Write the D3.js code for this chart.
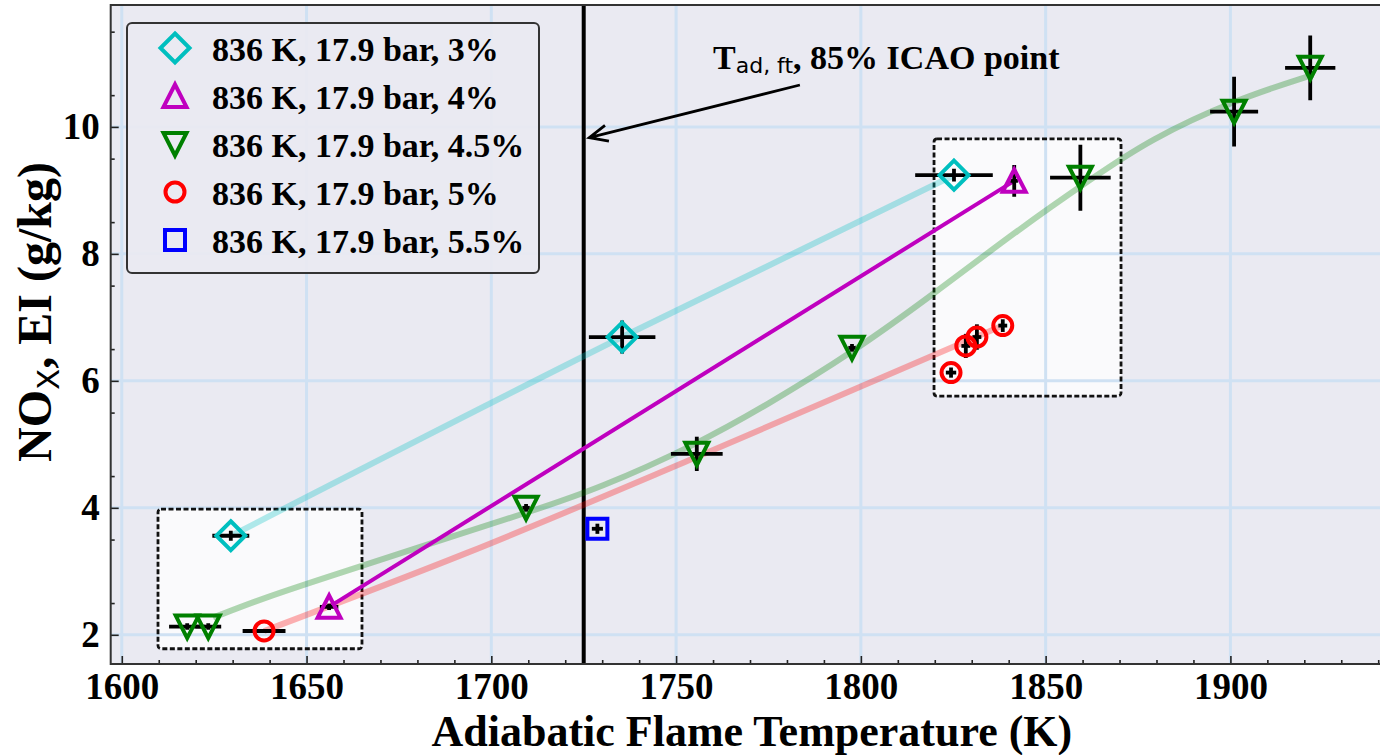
<!DOCTYPE html>
<html>
<head>
<meta charset="utf-8">
<script src="https://cdn.jsdelivr.net/npm/d3@7"></script>
<style>
  html, body { margin: 0; padding: 0; background: #ffffff; }
  svg { display: block; }
</style>
</head>
<body>
<div id="chart"></div>
<script>
//internal variables
var width = 1380;
var height = 755;
var pLeft = 110.7, pRight = 1393, pTop = 5, pBottom = 664;
var serif = "'Liberation Serif', 'Times New Roman', serif";
var sans = "'DejaVu Sans', sans-serif";

//data
// 3 %
const t3 = [1629.5, 1735.4, 1825.2];
const n3 = [3.56, 6.69, 9.24];
const t3err = [5, 9, 10.5];
const n3err = [0.08, 0.26, 0.1];
const fit3T = [1629.6, 1735.4, 1825.2];
const fit3N = [3.56, 6.69, 9.24];
// 4 %
const t4 = [1656.1, 1841.5];
const n4 = [2.44, 9.15];
const t4err = [2.5, 1];
const n4err = [0.05, 0.25];
// 4.5 %
const t45 = [1617.7, 1623.4, 1709.4, 1755.6, 1797.6, 1859.4, 1901.0, 1921.6];
const n45 = [2.13, 2.13, 4.0, 4.85, 6.52, 9.2, 10.24, 10.93];
const t45err = [4.9, 3.5, 1, 7, 1, 8.2, 6.5, 6.8];
const n45err = [0.05, 0.05, 0.06, 0.27, 0.06, 0.52, 0.55, 0.51];
const fit45T = [1624.7, 1639.3, 1657.2, 1684.2, 1709.4, 1729.4, 1755.6, 1774.6, 1797.6, 1819.5, 1843.0, 1862.8, 1878.2, 1900.9, 1922.3];
const fit45N = [2.27, 2.60, 2.94, 3.45, 3.92, 4.31, 5.00, 5.62, 6.44, 7.36, 8.40, 9.20, 9.80, 10.42, 10.82];
// 5 %
const t5 = [1638.5, 1824.4, 1828.4, 1831.4, 1838.4];
const n5 = [2.06, 6.13, 6.55, 6.69, 6.87];
const t5err = [5.8, 1.4, 1.2, 1.2, 1.2];
const n5err = [0.03, 0.08, 0.19, 0.2, 0.1];
const fit5T = [1638.5, 1693.4, 1755.6, 1838.4];
const fit5N = [2.06, 3.29, 4.80, 6.87];
// 5.5 %
const t55 = [1728.7];
const n55 = [3.67];
const t55err = [1.5];
const n55err = [0.08];

const legendLabels = ["836 K, 17.9 bar, 3%", "836 K, 17.9 bar, 4%", "836 K, 17.9 bar, 4.5%", "836 K, 17.9 bar, 5%", "836 K, 17.9 bar, 5.5%"];
const xTicks = [1600, 1650, 1700, 1750, 1800, 1850, 1900];
const yTicks = [2, 4, 6, 8, 10];
const tIcao = 1725;
// zoom boxes [T0, T1, N0, N1]
const box1 = [1609.8, 1665.0, 1.78, 3.98];
const box2 = [1819.8, 1870.4, 5.76, 9.81];
// arrow: tip and tail
const arrowT = [1726.5, 1783.5];
const arrowN = [9.83, 10.66];

//scales
var x = d3.scaleLinear().domain([1597, 1944]).range([pLeft, pRight]);
var y = d3.scaleLinear().domain([1.54, 11.92]).range([pBottom, pTop]);

const svg = d3.select("#chart")
    .append("svg")
    .attr("width", width)
    .attr("height", height);

svg.append("defs").append("clipPath").attr("id", "clip")
    .append("rect").attr("x", pLeft).attr("y", pTop).attr("width", pRight - pLeft).attr("height", pBottom - pTop);

svg.append("rect").attr("x", pLeft).attr("y", pTop).attr("width", pRight - pLeft).attr("height", pBottom - pTop)
    .attr("fill", "#eaeaf2");

const plot = svg.append("g").attr("clip-path", "url(#clip)");

//zoom boxes fill
[box1, box2].forEach(function(b) {
    plot.append("rect")
        .attr("x", x(b[0])).attr("y", y(b[3]))
        .attr("width", x(b[1]) - x(b[0])).attr("height", y(b[2]) - y(b[3]))
        .attr("rx", 3)
        .attr("fill", "#ffffff").attr("fill-opacity", 0.75);
});

//grid
plot.append("g").selectAll("line").data(xTicks).enter().append("line")
    .attr("x1", d => x(d)).attr("x2", d => x(d)).attr("y1", pTop).attr("y2", pBottom)
    .attr("stroke", "#cfe1f3").attr("stroke-width", 3);
plot.append("g").selectAll("line").data(yTicks).enter().append("line")
    .attr("x1", pLeft).attr("x2", pRight).attr("y1", d => y(d)).attr("y2", d => y(d))
    .attr("stroke", "#cfe1f3").attr("stroke-width", 3);

//zoom boxes border
[box1, box2].forEach(function(b) {
    plot.append("rect")
        .attr("x", x(b[0])).attr("y", y(b[3]))
        .attr("width", x(b[1]) - x(b[0])).attr("height", y(b[2]) - y(b[3]))
        .attr("rx", 3)
        .attr("fill", "none").attr("stroke", "#111").attr("stroke-width", 2.8)
        .attr("stroke-dasharray", "5,2.5");
});

//vertical line at 85% ICAO
plot.append("line").attr("x1", x(tIcao)).attr("x2", x(tIcao)).attr("y1", pTop).attr("y2", pBottom)
    .attr("stroke", "black").attr("stroke-width", 4);

//fit curves
function fit(ts, ns, color, op, w, curve) {
    var line = d3.line().x(d => x(d[0])).y(d => y(d[1])).curve(curve);
    plot.append("path").datum(d3.zip(ts, ns))
        .attr("d", line)
        .attr("fill", "none").attr("stroke", color).attr("stroke-opacity", op)
        .attr("stroke-width", w).attr("stroke-linecap", "butt");
}
fit(fit3T, fit3N, "#00bfbf", 0.3, 6, d3.curveMonotoneX);
fit(fit45T, fit45N, "#008000", 0.3, 6, d3.curveBasis);
fit(fit5T, fit5N, "#ff0000", 0.3, 6, d3.curveMonotoneX);
fit(t4, n4, "#bf00bf", 1, 4, d3.curveLinear);

//error bars
function errbars(ts, ns, te, ne) {
    var g = plot.append("g").attr("stroke", "black").attr("stroke-width", 3.8);
    ts.forEach(function(t, i) {
        g.append("line").attr("x1", x(t - te[i])).attr("x2", x(t + te[i])).attr("y1", y(ns[i])).attr("y2", y(ns[i]));
        g.append("line").attr("x1", x(t)).attr("x2", x(t)).attr("y1", y(ns[i] - ne[i])).attr("y2", y(ns[i] + ne[i]));
    });
}
errbars(t3, n3, t3err, n3err);
errbars(t4, n4, t4err, n4err);
errbars(t45, n45, t45err, n45err);
errbars(t5, n5, t5err, n5err);
errbars(t55, n55, t55err, n55err);

//marker shapes
const shapes = {
    diamond: "M0,-14.5L14.5,0L0,14.5L-14.5,0Z",
    up: "M0,-11.5L11.5,11L-11.5,11Z",
    down: "M0,11.5L11.5,-11L-11.5,-11Z",
    circle: "M9.5,0A9.5,9.5 0 1 1 -9.5,0A9.5,9.5 0 1 1 9.5,0Z",
    square: "M-10,-10H10V10H-10Z"
};
const series = [
    {t: t3, n: n3, shape: "diamond", color: "#00bfbf"},
    {t: t4, n: n4, shape: "up", color: "#bf00bf"},
    {t: t45, n: n45, shape: "down", color: "#008000"},
    {t: t5, n: n5, shape: "circle", color: "#ff0000"},
    {t: t55, n: n55, shape: "square", color: "#0000ff"}
];
series.forEach(function(s) {
    plot.append("g").selectAll("path").data(d3.zip(s.t, s.n)).enter().append("path")
        .attr("d", shapes[s.shape])
        .attr("transform", d => "translate(" + x(d[0]) + "," + y(d[1]) + ")")
        .attr("fill", "none").attr("stroke", s.color).attr("stroke-width", 4)
        .attr("stroke-linejoin", "miter");
});

//axes
svg.append("g").attr("transform", "translate(0," + pBottom + ")")
    .call(d3.axisBottom(x).tickValues(xTicks).tickFormat(d3.format("d")).tickSizeInner(-8).tickSizeOuter(0).tickPadding(9));
var xMinor = d3.range(1610, 1941, 10).filter(d => d % 50 != 0);
svg.append("g").attr("transform", "translate(0," + pBottom + ")")
    .call(d3.axisBottom(x).tickValues(xMinor).tickFormat("").tickSizeInner(-4).tickSizeOuter(0));
svg.append("g").attr("transform", "translate(" + pLeft + ",0)")
    .call(d3.axisLeft(y).tickValues(yTicks).tickSizeInner(-8).tickSizeOuter(0).tickPadding(11));
var yMinor = d3.range(2.5, 11.6, 1);
svg.append("g").attr("transform", "translate(" + pLeft + ",0)")
    .call(d3.axisLeft(y).tickValues(yMinor).tickFormat("").tickSizeInner(-4).tickSizeOuter(0));
svg.selectAll(".domain").remove();
svg.selectAll(".tick line").attr("stroke", "#222").attr("stroke-width", 1.6);
svg.selectAll(".tick text").attr("font-family", serif).attr("font-weight", "bold")
    .attr("font-size", 37).attr("fill", "black");

//spines
svg.append("path")
    .attr("d", "M" + pRight + "," + pBottom + "H" + pLeft + "V" + pTop + "H" + pRight)
    .attr("fill", "none").attr("stroke", "#333").attr("stroke-width", 2);

//axis labels
svg.append("text").attr("x", (pLeft + pRight) / 2).attr("y", 746)
    .attr("text-anchor", "middle").attr("font-family", serif).attr("font-weight", "bold")
    .attr("font-size", 44).text("Adiabatic Flame Temperature (K)");
var yl = svg.append("text").attr("transform", "translate(51,312) rotate(-90)")
    .attr("text-anchor", "middle").attr("font-family", serif).attr("font-weight", "bold")
    .attr("font-size", 48);
yl.append("tspan").text("NO");
yl.append("tspan").attr("font-family", sans).attr("font-weight", "normal").attr("font-size", 31).attr("dy", 8).text("X");
yl.append("tspan").attr("dy", -8).text(", EI (g/kg)");

//annotation
var an = svg.append("text").attr("x", 713).attr("y", 69)
    .attr("font-family", serif).attr("font-weight", "bold").attr("font-size", 34);
an.append("tspan").text("T");
an.append("tspan").attr("font-family", sans).attr("font-weight", "normal").attr("font-size", 22).attr("dy", 4).text("ad, ft");
an.append("tspan").attr("dy", -4).text(", 85% ICAO point");

var ax0 = x(arrowT[1]), ay0 = y(arrowN[1]), ax1 = x(arrowT[0]), ay1 = y(arrowN[0]);
var ang = Math.atan2(ay1 - ay0, ax1 - ax0);
var hl = 20, ha = 0.42;
svg.append("path")
    .attr("d", "M" + ax0 + "," + ay0 + "L" + ax1 + "," + ay1
        + "M" + (ax1 - hl * Math.cos(ang - ha)) + "," + (ay1 - hl * Math.sin(ang - ha))
        + "L" + ax1 + "," + ay1
        + "L" + (ax1 - hl * Math.cos(ang + ha)) + "," + (ay1 - hl * Math.sin(ang + ha)))
    .attr("fill", "none").attr("stroke", "black").attr("stroke-width", 2.8)
    .attr("stroke-linejoin", "miter");

//legend
var lg = svg.append("g");
lg.append("rect").attr("x", 127).attr("y", 23).attr("width", 412).attr("height", 250).attr("rx", 5)
    .attr("fill", "#eaeaf2").attr("fill-opacity", 0.9).attr("stroke", "#333").attr("stroke-width", 2);
series.forEach(function(s, i) {
    var cy = 48 + i * 48;
    lg.append("path").attr("d", shapes[s.shape]).attr("transform", "translate(175," + cy + ")")
        .attr("fill", "none").attr("stroke", s.color).attr("stroke-width", 4);
    lg.append("text").attr("x", 212).attr("y", cy + 13)
        .attr("font-family", serif).attr("font-weight", "bold").attr("font-size", 34)
        .text(legendLabels[i]);
});
</script>
</body>
</html>
